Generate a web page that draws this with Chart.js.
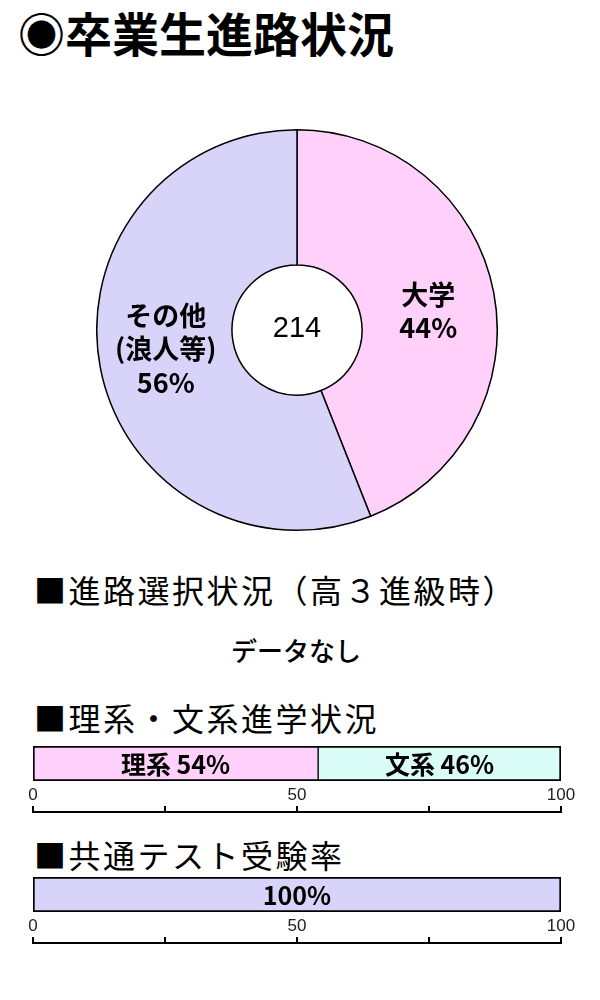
<!DOCTYPE html>
<html lang="ja">
<head>
<meta charset="utf-8">
<title>卒業生進路状況</title>
<script src="https://cdn.jsdelivr.net/npm/chart.js@4"></script>
<style>
    body {
        margin: 0;
        width: 600px;
        height: 1000px;
        background: #fff;
        font-family: "Noto Sans CJK JP", sans-serif;
        color: #000;
        position: relative;
        overflow: hidden;
    }
    .title {
        position: absolute;
        left: 18px;
        top: 7px;
        font-size: 47px;
        line-height: 50px;
        font-weight: bold;
        white-space: nowrap;
    }
    .heading {
        position: absolute;
        left: 34px;
        font-size: 32px;
        line-height: 34px;
        letter-spacing: 2.5px;
        white-space: nowrap;
    }
    .nodata {
        position: absolute;
        left: 0;
        width: 592px;
        top: 635px;
        text-align: center;
        font-size: 26px;
        line-height: 30px;
        font-weight: 500;
    }
    canvas {
        position: absolute;
    }
</style>
</head>
<body>
<div class="title">◉卒業生進路状況</div>
<canvas id="pie-chart" width="402" height="402" style="left:96px; top:129px;"></canvas>
<div class="heading" style="top:572px;">■進路選択状況（高３進級時）</div>
<div class="nodata">データなし</div>
<div class="heading" style="top:700px;">■理系・文系進学状況</div>
<canvas id="course-chart" width="600" height="90" style="left:0; top:740px;"></canvas>
<div class="heading" style="top:837px;">■共通テスト受験率</div>
<canvas id="test-chart" width="600" height="90" style="left:0; top:871px;"></canvas>

<script>
// Graduates' destinations
const pieLabels = [['大学'], ['その他', '(浪人等)']];
const pieValues = [44, 56];
const pieColors = ['#ffd1fa', '#d8d3f8'];
const graduateTotal = 214;

// Science / humanities split
const courseLabels = ['理系', '文系'];
const courseValues = [54, 46];
const courseColors = ['#ffd1fa', '#d9fcf6'];

// Common test participation
const testLabels = [''];
const testValues = [100];
const testColors = ['#d8d3f8'];

// Axis under the bars
const axisTicks = [0, 25, 50, 75, 100];
const axisLabels = [0, 50, 100];

const pieTextPlugin = {
    id: 'pieText',
    afterDatasetsDraw(chart) {
        const ctx = chart.ctx;
        const meta = chart.getDatasetMeta(0);
        ctx.save();
        ctx.fillStyle = '#000';
        ctx.textAlign = 'center';
        ctx.textBaseline = 'middle';
        meta.data.forEach((arc, i) => {
            // labels sit a little past the middle of each slice
            const mid = (arc.startAngle + arc.endAngle) / 2 + 0.045;
            const r = (arc.innerRadius + arc.outerRadius) / 2;
            const px = arc.x + Math.cos(mid) * r;
            const py = arc.y + Math.sin(mid) * r;
            const lines = pieLabels[i].concat([pieValues[i] + '%']);
            const lineHeight = 33.5;
            const startY = py - (lines.length - 1) * lineHeight / 2;
            ctx.font = 'bold 27px "Noto Sans CJK JP", sans-serif';
            lines.forEach((line, j) => {
                ctx.fillText(line, px, startY + j * lineHeight);
            });
        });
        // total in the hole
        const c = meta.data[0];
        ctx.font = '29px "Liberation Sans", "Noto Sans CJK JP", sans-serif';
        ctx.fillText(String(graduateTotal), c.x, c.y - 1);
        ctx.restore();
    }
};

const barTextPlugin = {
    id: 'barText',
    afterDatasetsDraw(chart) {
        const ctx = chart.ctx;
        ctx.save();
        ctx.fillStyle = '#000';
        ctx.textAlign = 'center';
        ctx.textBaseline = 'middle';
        ctx.font = 'bold 25px "Noto Sans CJK JP", sans-serif';
        chart.data.datasets.forEach((ds, i) => {
            const meta = chart.getDatasetMeta(i);
            meta.data.forEach((bar, j) => {
                const text = (ds.label + ' ' + ds.data[j] + '%').trim();
                ctx.fillText(text, (bar.x + bar.base) / 2, bar.y + 1);
            });
        });
        ctx.restore();
    }
};

const axisPlugin = {
    id: 'axisUnder',
    afterDraw(chart) {
        const ctx = chart.ctx;
        const xs = chart.scales.x;
        const baseY = chart.chartArea.bottom + 31;
        ctx.save();
        ctx.strokeStyle = '#000';
        ctx.lineWidth = 2;
        ctx.beginPath();
        ctx.moveTo(xs.getPixelForValue(axisTicks[0]) - 1, baseY);
        ctx.lineTo(xs.getPixelForValue(axisTicks[axisTicks.length - 1]) + 1, baseY);
        axisTicks.forEach(v => {
            const x = xs.getPixelForValue(v);
            ctx.moveTo(x, baseY);
            ctx.lineTo(x, baseY - 6);
        });
        ctx.stroke();
        ctx.fillStyle = '#222';
        ctx.font = '17px "Liberation Sans", sans-serif';
        ctx.textAlign = 'center';
        ctx.textBaseline = 'middle';
        axisLabels.forEach(v => {
            ctx.fillText(String(v), xs.getPixelForValue(v), chart.chartArea.bottom + 14);
        });
        ctx.restore();
    }
};

new Chart(document.getElementById('pie-chart').getContext('2d'), {
    type: 'doughnut',
    data: {
        labels: pieLabels.map(l => l.join('')),
        datasets: [{
            data: pieValues,
            backgroundColor: pieColors,
            borderColor: '#000',
            borderWidth: 1.5
        }]
    },
    options: {
        responsive: false,
        animation: false,
        cutout: '32.5%',
        events: [],
        plugins: {
            legend: { display: false },
            tooltip: { enabled: false }
        }
    },
    plugins: [pieTextPlugin]
});

function makeBarChart(canvasId, labels, values, colors) {
    const last = values.length - 1;
    return new Chart(document.getElementById(canvasId).getContext('2d'), {
        type: 'bar',
        data: {
            labels: [''],
            datasets: values.map((v, i) => ({
                label: labels[i],
                data: [v],
                backgroundColor: colors[i],
                borderColor: '#000',
                borderWidth: {
                    top: 2,
                    bottom: 2,
                    left: i === 0 ? 2 : 1,
                    right: i === last ? 2 : 1
                },
                borderSkipped: false,
                categoryPercentage: 1,
                barPercentage: 1
            }))
        },
        options: {
            indexAxis: 'y',
            responsive: false,
            animation: false,
            events: [],
            layout: { padding: { left: 33, right: 39, top: 6, bottom: 49 } },
            scales: {
                x: { stacked: true, min: 0, max: 100, display: false },
                y: { stacked: true, display: false }
            },
            plugins: {
                legend: { display: false },
                tooltip: { enabled: false }
            }
        },
        plugins: [barTextPlugin, axisPlugin]
    });
}

makeBarChart('course-chart', courseLabels, courseValues, courseColors);
makeBarChart('test-chart', testLabels, testValues, testColors);
</script>
</body>
</html>
